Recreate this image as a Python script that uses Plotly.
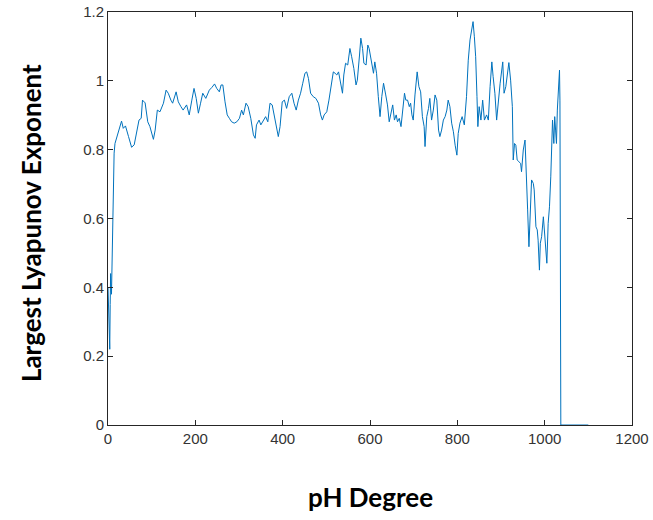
import plotly.graph_objects as go

# pH degree (x) and largest Lyapunov exponent (y)
ph = [0, 2, 4, 5, 6, 7, 8, 10, 12, 14, 16, 24, 31, 35, 40, 47, 54, 60, 66, 71, 76, 79, 85,
      91, 96, 104, 108, 113, 119, 127, 133, 138, 144, 148, 156, 161, 167, 172, 180, 186, 192,
      197, 202, 207, 212, 217, 224, 232, 238, 244, 249, 255, 259, 263, 268, 273, 278, 283,
      289, 295, 301, 306, 310, 316, 321, 327, 333, 337, 340, 346, 350, 356, 361, 366, 371,
      376, 381, 386, 390, 394, 399, 404, 409, 415, 421, 426, 431, 436, 441, 446, 451, 455,
      459, 464, 470, 476, 482, 487, 491, 495, 501, 506, 511, 516, 520, 524, 528, 533, 537,
      540, 544, 549, 554, 558, 563, 568, 571, 576, 579, 583, 586, 591, 595, 598, 602, 608,
      611, 615, 619, 623, 627, 631, 636, 640, 644, 648, 652, 656, 660, 663, 667, 671, 675,
      679, 682, 686, 690, 693, 696, 699, 703, 708, 712, 716, 720, 724, 726, 730, 734, 737,
      741, 745, 749, 753, 757, 760, 764, 768, 772, 776, 779, 783, 787, 791, 795, 799, 802,
      806, 811, 816, 821, 825, 829, 833, 836, 839, 842, 845, 847, 850, 854, 858, 862, 867,
      871, 875, 879, 882, 886, 890, 894, 898, 904, 907, 911, 918, 922, 926, 928, 931, 934,
      937, 941, 945, 947, 951, 955, 957, 961, 964, 966, 970, 974, 976, 980, 983, 985, 988,
      990, 993, 997, 1001, 1005, 1008, 1011, 1014, 1016, 1018, 1021, 1023, 1025, 1027, 1029,
      1032, 1034, 1035, 1036, 1037, 1100]
lle = [0.40, 0.30, 0.22, 0.35, 0.44, 0.40, 0.38, 0.55, 0.70, 0.79, 0.818, 0.852, 0.883,
       0.862, 0.869, 0.838, 0.807, 0.814, 0.852, 0.886, 0.891, 0.944, 0.936, 0.881, 0.867,
       0.830, 0.857, 0.915, 0.910, 0.935, 0.973, 0.964, 0.944, 0.935, 0.968, 0.939, 0.925,
       0.915, 0.930, 0.901, 0.944, 0.978, 0.949, 0.906, 0.935, 0.964, 0.949, 0.973, 0.981,
       0.991, 0.978, 0.968, 0.988, 0.988, 0.939, 0.901, 0.891, 0.881, 0.877, 0.881, 0.891,
       0.915, 0.901, 0.935, 0.925, 0.891, 0.843, 0.833, 0.872, 0.886, 0.872, 0.886, 0.896,
       0.881, 0.935, 0.930, 0.896, 0.857, 0.838, 0.867, 0.939, 0.944, 0.920, 0.954, 0.964,
       0.935, 0.915, 0.944, 0.964, 0.993, 1.022, 1.026, 1.007, 0.964, 0.954, 0.949, 0.935,
       0.901, 0.886, 0.901, 0.910, 0.944, 0.983, 1.026, 1.022, 1.017, 1.026, 0.990, 0.964,
       1.017, 1.051, 1.046, 1.094, 1.070, 1.036, 0.988, 1.002, 1.075, 1.124, 1.094, 1.051,
       1.046, 1.104, 1.094, 1.065, 1.022, 1.055, 1.022, 0.954, 0.896, 0.954, 0.993, 0.959,
       0.930, 0.881, 0.910, 0.930, 0.886, 0.901, 0.881, 0.891, 0.867, 0.915, 0.964, 0.944,
       0.944, 0.925, 0.935, 0.901, 0.886, 0.959, 1.026, 0.983, 0.968, 0.896, 0.867, 0.809,
       0.896, 0.920, 0.949, 0.886, 0.915, 0.959, 0.944, 0.857, 0.838, 0.857, 0.886, 0.896,
       0.915, 0.944, 0.925, 0.877, 0.852, 0.813, 0.784, 0.847, 0.877, 0.896, 0.872, 0.954,
       1.060, 1.119, 1.148, 1.172, 1.128, 1.070, 0.954, 0.867, 0.925, 0.886, 0.944, 0.886,
       0.901, 0.886, 0.983, 1.055, 1.012, 0.964, 0.886, 0.944, 0.993, 1.055, 0.964, 0.983,
       1.053, 1.002, 0.925, 0.770, 0.818, 0.813, 0.770, 0.765, 0.760, 0.736, 0.799, 0.828,
       0.741, 0.625, 0.518, 0.605, 0.712, 0.702, 0.683, 0.576, 0.567, 0.537, 0.450, 0.528,
       0.547, 0.605, 0.547, 0.470, 0.586, 0.634, 0.721, 0.838, 0.886, 0.818, 0.896, 0.857,
       0.818, 0.915, 0.973, 1.031, 0.944, 0.0, 0.0, 0.0]

x_ticks = [0, 200, 400, 600, 800, 1000, 1200]
y_ticks = [0, 0.2, 0.4, 0.6, 0.8, 1.0, 1.2]
y_tick_text = ["0", "0.2", "0.4", "0.6", "0.8", "1", "1.2"]

fig = go.Figure()
fig.add_trace(go.Scatter(x=ph, y=lle, mode="lines",
                         line=dict(color="#0072BD", width=1)))

axis_common = dict(showgrid=False, zeroline=False, showline=True, mirror="ticks",
                   linecolor="#262626", linewidth=1, ticks="inside", ticklen=5,
                   tickcolor="#262626", automargin=False,
                   tickfont=dict(family="Liberation Sans, Arial", size=15, color="#333333"))

fig.update_layout(
    width=653, height=520,
    margin=dict(l=108, r=21, t=12, b=95),
    paper_bgcolor="white", plot_bgcolor="white",
    showlegend=False,
    xaxis=dict(range=[0, 1200], tickvals=x_ticks, **axis_common),
    yaxis=dict(range=[0, 1.2], tickvals=y_ticks, ticktext=y_tick_text, **axis_common),
    annotations=[
        dict(text="<b>pH Degree</b>", xref="paper", yref="paper", x=0.5, y=-0.174,
             xanchor="center", yanchor="middle", showarrow=False,
             font=dict(family="Lato", size=26, color="black")),
        dict(text="<b>Largest Lyapunov Exponent</b>", xref="paper", yref="paper",
             x=-0.148, y=0.49, xanchor="center", yanchor="middle", textangle=-90,
             showarrow=False, font=dict(family="Lato", size=26, color="black")),
    ],
)

fig.write_html("out.html")
